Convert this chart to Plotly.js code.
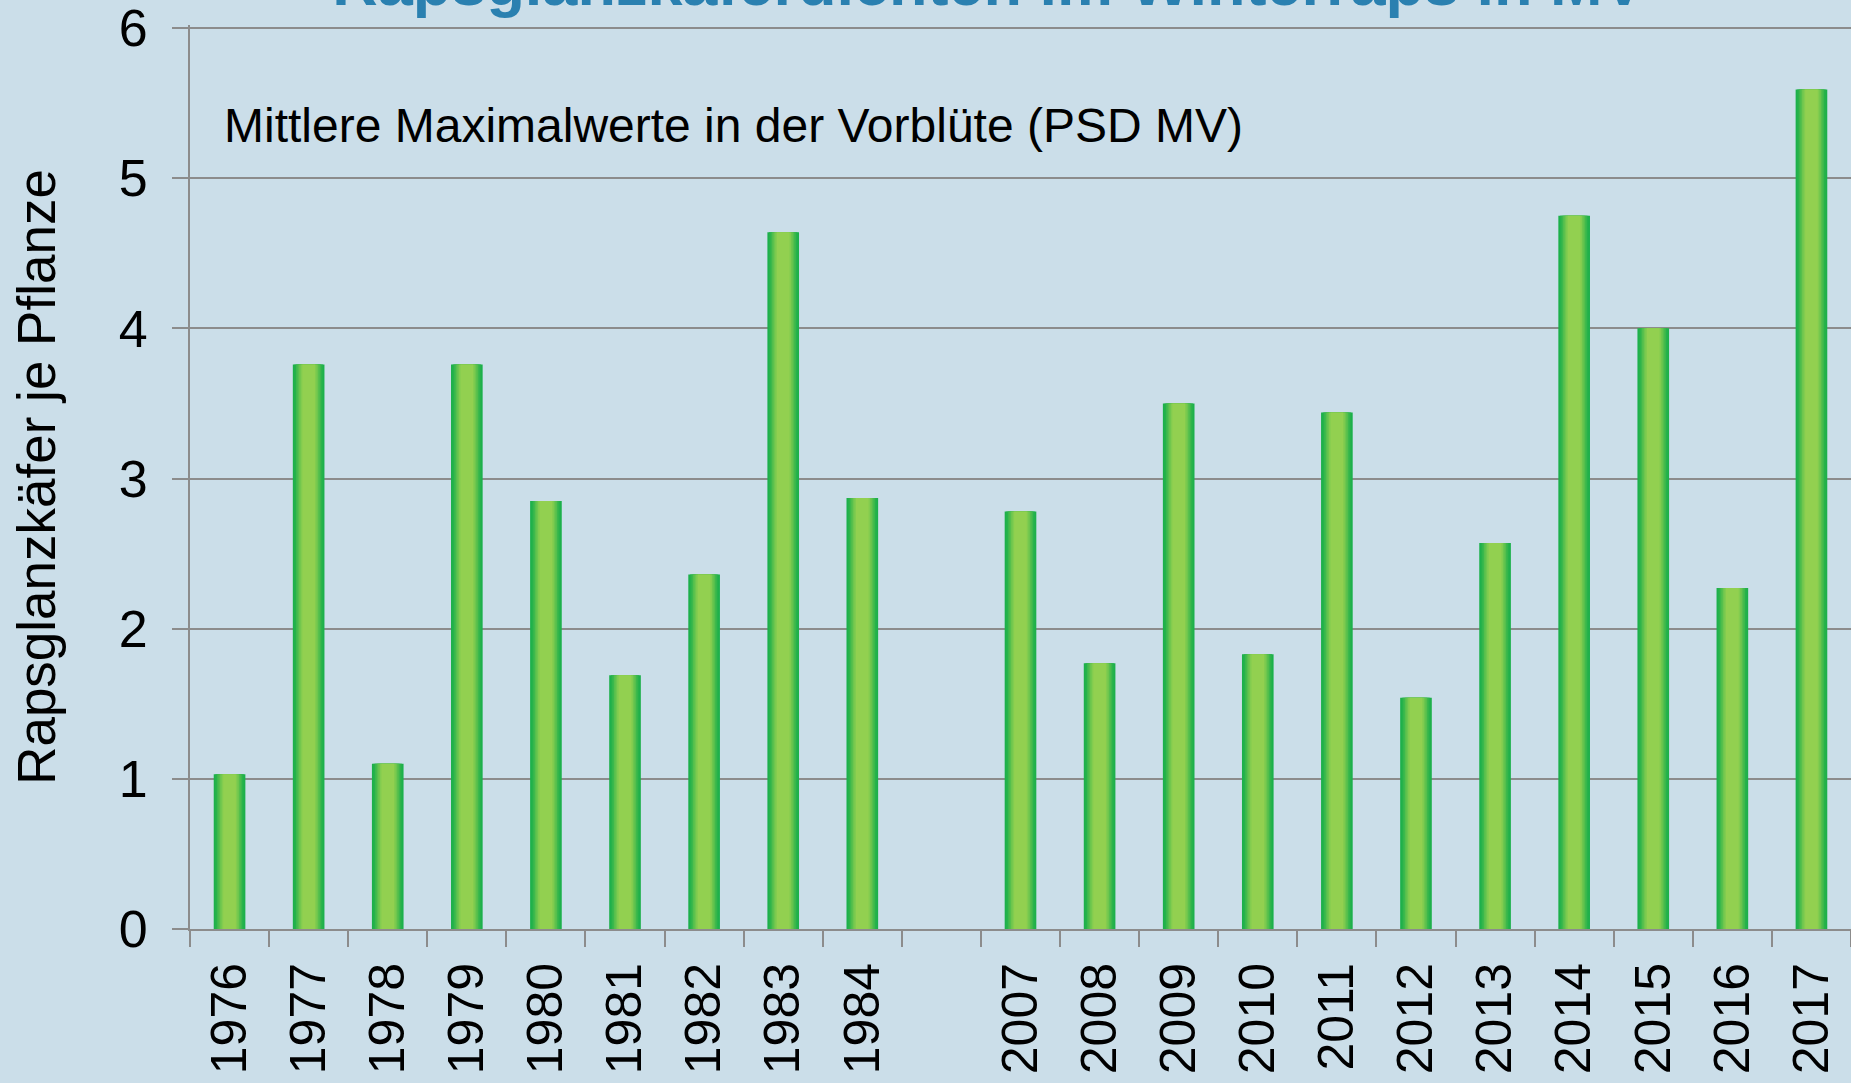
<!DOCTYPE html>
<html><head><meta charset="utf-8">
<script src="https://cdn.plot.ly/plotly-3.0.1.min.js"></script>
<style>html,body{margin:0;padding:0;background:#CBDEE9;}#chart{width:1851px;height:1083px;}</style>
</head><body><div id="chart"></div>
<script>
// ---- data ----
const years = ['1976','1977','1978','1979','1980','1981','1982','1983','1984',' ',
               '2007','2008','2009','2010','2011','2012','2013','2014','2015','2016','2017'];
const values = [1.03,3.76,1.10,3.76,2.85,1.69,2.36,4.64,2.87,null,
                2.78,1.77,3.50,1.83,3.44,1.54,2.57,4.75,4.00,2.27,5.59];
const yTickValues = [0,1,2,3,4,5,6];
const chartTitle = 'Rapsglanzkäferdichten im Winterraps in MV';
const subTitle = 'Mittlere Maximalwerte in der Vorblüte (PSD MV)';
const yAxisTitle = 'Rapsglanzkäfer je Pflanze';

// ---- style (gradient imitation: overlaid bands) ----
const bandWidths = [0.40,0.36,0.32,0.28,0.24,0.20,0.16];
const bandColors = ['#1DB04B','#26B24B','#3CB84C','#55BF4D','#6DC64E','#82CC4F','#92D050'];
const grey = '#8C8C8C';
const font = 'Liberation Sans, Arial, sans-serif';

const traces = bandWidths.map((w, i) => ({
  type: 'bar', x: years, y: values, width: w,
  marker: {color: bandColors[i], line: {width: 0}},
  hoverinfo: 'skip', showlegend: false
}));

const layout = {
  width: 1851, height: 1083,
  paper_bgcolor: '#CBDEE9', plot_bgcolor: '#CBDEE9',
  margin: {l: 190, r: 0, t: 25, b: 154, pad: 0},
  barmode: 'overlay',
  font: {family: font, color: '#000'},
  title: {text: chartTitle, xref: 'container', yref: 'container', x: 0.534, xanchor: 'center',
          y: 1 - 5/1083, yanchor: 'bottom',
          font: {family: font, size: 63, weight: 700, color: '#2A80B0'}},
  xaxis: {type: 'category', categoryorder: 'array', categoryarray: years, range: [-0.5, 20.5],
          tickson: 'boundaries', ticks: 'outside', ticklen: 16, tickwidth: 2, tickcolor: grey,
          showline: true, linecolor: grey, linewidth: 2, showgrid: false, zeroline: false,
          tickangle: -90, tickfont: {family: font, size: 50, color: '#000'}, ticklabelstandoff: 12,
          automargin: false, fixedrange: true},
  yaxis: {range: [0, 6.02], tickmode: 'array', tickvals: yTickValues, ticks: 'outside', ticklen: 16,
          tickwidth: 2, tickcolor: grey, gridcolor: grey, gridwidth: 2,
          showline: true, linecolor: grey, linewidth: 2, zeroline: false,
          tickfont: {family: font, size: 52, color: '#000'}, ticklabelstandoff: 14,
          ticklabeloverflow: 'allow',
          title: {text: yAxisTitle, standoff: 46, font: {family: font, size: 53, color: '#000'}},
          automargin: false, fixedrange: true},
  annotations: [{text: subTitle, xref: 'paper', yref: 'paper', x: (222-190)/1661, xanchor: 'left',
                 y: (929-123-3)/904, yanchor: 'middle', showarrow: false,
                 font: {family: font, size: 48, color: '#000'}}]
};

Plotly.newPlot('chart', traces, layout, {displayModeBar: false, staticPlot: true});
</script>
</body></html>
